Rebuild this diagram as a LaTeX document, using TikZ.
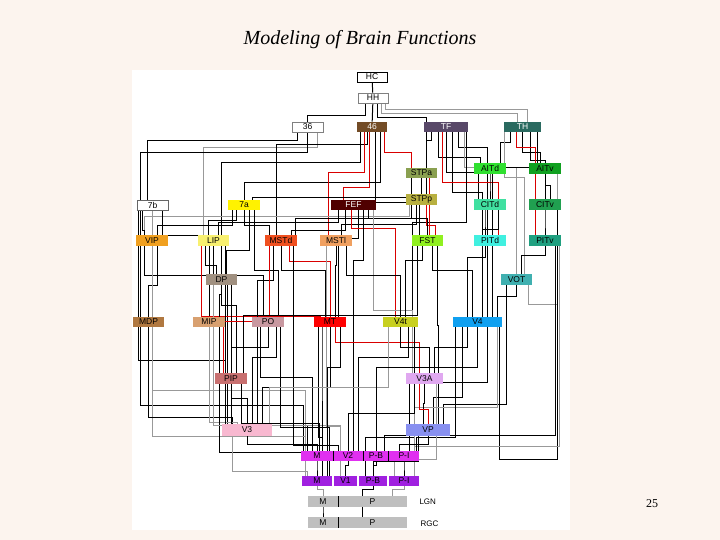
\documentclass[tikz,border=0pt]{standalone}
\usepackage{fontspec}
\setmainfont{Liberation Serif}
\newfontfamily\nodefont{Liberation Sans}
\usetikzlibrary{backgrounds}
\begin{document}
\begin{tikzpicture}[x=1pt,y=-1pt,
  bx/.style={inner sep=0pt,font=\nodefont\fontsize{8.5}{9}\selectfont,minimum height=10.5},
  k/.style={black,line width=1pt},
  g/.style={black!40,line width=0.9pt},
  r/.style={red!85!black,line width=0.7pt}]
\newcommand\E[6]{\draw[#1] ([xshift=#3]#2.south) -- ++(0,#4) -| ([xshift=#6]#5.north);}
\newcommand\N[6]{\node[bx,fill={#1},text=#2,minimum width=#5] (#3) at (#4) {#6};}
\begin{pgfonlayer}{background}
\fill[fill={rgb,255:red,252;green,244;blue,238}] (0,0) rectangle (720,540);
\fill[white] (132,70) rectangle (570,530);
\end{pgfonlayer}
\useasboundingbox (0,0) rectangle (720,540);
\node[font=\itshape\fontsize{20}{24}\selectfont] (title) at (360,40) {Modeling of Brain Functions};
\node[font=\fontsize{12}{14}\selectfont] (pg) at (652,504) {25};
% nodes
\node[bx,draw=black,fill=white,minimum width=30] (HC) at (372,77) {HC};
\node[bx,draw=black!50,fill=white,minimum width=30] (HH) at (373,98) {HH};
\node[bx,draw=black!50,fill=white,minimum width=31] (n36) at (307.5,127) {36};
\N{brown!60!black}{white}{n46}{372,127}{30}{46}
\N{rgb,255:red,88;green,72;blue,104}{white}{TF}{446,127}{44}{TF}
\N{rgb,255:red,42;green,106;blue,96}{white}{TH}{522.5,127}{37}{TH}
\N{rgb,255:red,138;green,160;blue,80}{black}{STPa}{421.5,173}{31}{STPa}
\N{rgb,255:red,48;green,224;blue,48}{black}{AITd}{490,168.5}{32}{AITd}
\N{rgb,255:red,16;green,160;blue,32}{black}{AITv}{545,168.5}{32}{AITv}
\node[bx,draw=black!60,fill=white,minimum width=31] (n7b) at (152.5,205) {7b};
\N{yellow}{black}{n7a}{244,205}{32}{7a}
\N{rgb,255:red,80;green,0;blue,0}{white}{FEF}{353.5,205}{45}{FEF}
\N{rgb,255:red,184;green,176;blue,64}{black}{STPp}{421.5,199.5}{31}{STPp}
\N{rgb,255:red,64;green,224;blue,160}{black}{CITd}{490,204.5}{32}{CITd}
\N{rgb,255:red,32;green,160;blue,80}{black}{CITv}{545,204.5}{32}{CITv}
\N{rgb,255:red,240;green,160;blue,32}{black}{VIP}{152,240.5}{32}{VIP}
\N{rgb,255:red,248;green,240;blue,112}{black}{LIP}{213.5,240.5}{31}{LIP}
\N{rgb,255:red,240;green,80;blue,32}{black}{MSTd}{281,240.5}{32}{MSTd}
\N{rgb,255:red,240;green,160;blue,96}{black}{MSTl}{336,240.5}{32}{MSTl}
\N{rgb,255:red,144;green,240;blue,32}{black}{FST}{427.5,240.5}{31}{FST}
\N{rgb,255:red,64;green,240;blue,224}{black}{PITd}{490,240.5}{32}{PITd}
\N{rgb,255:red,32;green,160;blue,128}{black}{PITv}{545,240.5}{32}{PITv}
\N{rgb,255:red,160;green,144;blue,128}{black}{DP}{221.5,279.5}{31}{DP}
\N{rgb,255:red,64;green,176;blue,176}{black}{VOT}{516.5,279.5}{31}{VOT}
\N{rgb,255:red,176;green,120;blue,64}{black}{MDP}{148.5,322}{31}{MDP}
\N{rgb,255:red,216;green,160;blue,112}{black}{MIP}{209,322}{32}{MIP}
\N{rgb,255:red,200;green,152;blue,160}{black}{PO}{268,322}{32}{PO}
\N{red}{black}{MT}{330,322}{32}{MT}
\N{rgb,255:red,200;green,208;blue,32}{black}{V4t}{400.5,322}{35}{V4t}
\N{rgb,255:red,16;green,160;blue,240}{black}{V4}{477.5,322}{49}{V4}
\N{rgb,255:red,200;green,112;blue,112}{black}{PIP}{231,378.5}{32}{PIP}
\N{rgb,255:red,224;green,168;blue,240}{black}{V3A}{424.5,378.5}{37}{V3A}
\node[bx,fill={rgb,255:red,248;green,184;blue,208},minimum width=50,minimum height=12] (V3) at (247,430) {V3};
\node[bx,fill={rgb,255:red,136;green,144;blue,240},minimum width=44,minimum height=12] (VP) at (428,430) {VP};
\N{rgb,255:red,224;green,48;blue,240}{black}{V2M}{317,456}{32}{M}
\N{rgb,255:red,224;green,48;blue,240}{black}{V2}{348,456}{30}{V2}
\N{rgb,255:red,224;green,48;blue,240}{black}{V2PB}{376,456}{24}{P-B}
\N{rgb,255:red,224;green,48;blue,240}{black}{V2PI}{404,456}{30}{P-I}
\N{rgb,255:red,160;green,32;blue,224}{black}{V1M}{317,481}{30}{M}
\N{rgb,255:red,160;green,32;blue,224}{black}{V1}{345.5,481}{23}{V1}
\N{rgb,255:red,160;green,32;blue,224}{black}{V1PB}{373,481}{28}{P-B}
\N{rgb,255:red,160;green,32;blue,224}{black}{V1PI}{404,481}{30}{P-I}
\N{black!25}{black}{LGNM}{323,501.5}{30}{M}
\N{black!25}{black}{LGNP}{372.5,501.5}{69}{P}
\N{black!25}{black}{RGCM}{323,522.5}{30}{M}
\N{black!25}{black}{RGCP}{372.5,522.5}{69}{P}
\draw[line width=1.2pt] (LGNM.north east) -- (LGNM.south east);
\draw[line width=1.2pt] (RGCM.north east) -- (RGCM.south east);
\draw[line width=1pt] (V2M.north east) -- (V2M.south east);
\draw[line width=1pt] (V2.north east) -- (V2.south east);
\draw[line width=1pt] (V2PB.north east) -- (V2PB.south east);
\node[font=\nodefont\fontsize{8}{9}\selectfont,anchor=west] (lgn) at (416,502) {LGN};
\node[font=\nodefont\fontsize{8}{9}\selectfont,anchor=west] (rgc) at (417,524) {RGC};
% connectors
\begin{pgfonlayer}{background}
\draw[k] (HC) -- (HH);
\draw[k] (HH) -- (n46);
\E{k}{HH}{-8}{12}{n36}{0}
\E{g}{HH}{8}{10}{TH}{-5}
\E{k}{HH}{4}{14}{TF}{-20}
\E{g}{HH}{12}{6}{TH}{5}
\E{k}{n36}{-10}{8}{n7b}{-5}
\E{g}{n36}{10}{15}{LIP}{-10}
\E{k}{n36}{0}{20}{VIP}{-12}
\E{k}{n46}{-5}{12}{MSTd}{-5}
\E{r}{n46}{-3}{55}{FEF}{-10}
\E{k}{n46}{3}{70}{FST}{-8}
\E{k}{n46}{8}{50}{n7a}{0}
\E{r}{n46}{12}{20}{STPp}{-10}
\E{k}{n46}{-12}{30}{LIP}{8}
\E{r}{n46}{-8}{40}{MSTl}{-8}
\E{k}{TF}{-15}{8}{STPa}{5}
\E{k}{TF}{-8}{25}{AITd}{-10}
\E{k}{TF}{0}{40}{CITd}{-12}
\E{k}{TF}{6}{60}{PITd}{-8}
\E{k}{TF}{12}{15}{V4}{10}
\E{g}{TF}{18}{35}{VOT}{0}
\E{k}{TF}{-20}{65}{n7a}{8}
\E{r}{TF}{-4}{50}{PITd}{8}
\E{k}{TF}{20}{90}{V4t}{12}
\E{k}{TH}{-12}{10}{AITd}{10}
\E{k}{TH}{0}{20}{AITv}{-5}
\E{k}{TH}{8}{28}{CITv}{0}
\E{r}{TH}{-6}{15}{PITv}{-10}
\E{k}{TH}{15}{35}{V4}{15}
\E{g}{TH}{-18}{45}{VOT}{8}
\E{k}{STPa}{0}{10}{STPp}{0}
\E{k}{STPa}{-10}{40}{MSTd}{14}
\E{r}{STPa}{8}{60}{FST}{12}
\E{k}{STPp}{-5}{20}{MSTl}{5}
\E{r}{STPp}{5}{20}{FST}{8}
\E{g}{STPp}{-12}{12}{VIP}{-8}
\E{k}{AITd}{0}{10}{CITd}{0}
\E{k}{AITv}{0}{12}{CITv}{5}
\E{g}{AITv}{12}{130}{VOT}{12}
\E{k}{CITd}{-5}{10}{PITd}{-5}
\E{k}{CITv}{0}{12}{PITv}{0}
\E{k}{CITd}{8}{20}{V4}{5}
\E{k}{CITv}{12}{250}{V4}{22}
\E{k}{PITd}{-5}{12}{V4}{-10}
\E{k}{PITv}{0}{10}{VOT}{5}
\E{k}{PITv}{10}{190}{V2PB}{8}
\E{g}{PITv}{14}{200}{V2PI}{10}
\E{k}{VOT}{0}{12}{V4}{20}
\E{k}{VOT}{-10}{120}{VP}{15}
\E{k}{FEF}{-15}{12}{LIP}{5}
\E{k}{FEF}{-8}{20}{MSTd}{10}
\E{k}{FEF}{5}{28}{MT}{8}
\E{r}{FEF}{-2}{18}{V4t}{-5}
\E{k}{FEF}{15}{8}{FST}{0}
\E{k}{FEF}{10}{50}{V2}{5}
\E{g}{FEF}{20}{100}{V3A}{-12}
\E{k}{n7a}{-8}{10}{LIP}{-5}
\E{k}{n7a}{0}{15}{MSTd}{-12}
\E{k}{n7a}{5}{40}{DP}{5}
\E{k}{n7a}{10}{60}{PO}{10}
\E{k}{n7a}{-12}{15}{VIP}{5}
\E{k}{n7b}{-10}{20}{VIP}{-8}
\E{k}{n7b}{10}{25}{MIP}{0}
\E{k}{n7b}{-14}{150}{V3}{-22}
\E{g}{n7b}{0}{180}{V2M}{-12}
\E{k}{VIP}{-8}{30}{V3}{-20}
\E{k}{VIP}{5}{40}{MDP}{0}
\E{k}{VIP}{-12}{160}{V2M}{-14}
\E{g}{VIP}{0}{190}{V1M}{-12}
\E{k}{MDP}{0}{90}{V3}{-15}
\E{g}{MIP}{0}{95}{V3}{-10}
\E{k}{MIP}{10}{125}{V2M}{-8}
\E{k}{LIP}{-8}{20}{DP}{-5}
\E{k}{LIP}{0}{30}{PO}{-5}
\E{k}{LIP}{8}{60}{PIP}{5}
\E{r}{LIP}{-12}{70}{MT}{-10}
\E{k}{LIP}{12}{180}{V2M}{-10}
\E{k}{DP}{10}{145}{V3}{20}
\E{g}{DP}{-8}{140}{V2}{-8}
\E{k}{MSTd}{0}{25}{MT}{-5}
\E{r}{MSTd}{8}{15}{MT}{0}
\E{k}{MSTd}{-8}{35}{V3}{10}
\E{k}{MSTd}{12}{200}{V2}{-10}
\E{r}{MSTd}{-12}{75}{PIP}{-8}
\E{k}{MSTl}{0}{20}{MT}{5}
\E{k}{MSTl}{10}{30}{V4t}{0}
\E{g}{MSTl}{-10}{180}{V1}{-5}
\E{k}{FST}{-5}{15}{V4t}{5}
\E{k}{FST}{5}{25}{V4}{-5}
\E{k}{FST}{10}{80}{VP}{10}
\E{k}{FST}{-10}{70}{PIP}{12}
\E{k}{DP}{0}{10}{MIP}{10}
\E{k}{PO}{0}{20}{PIP}{0}
\E{k}{PO}{8}{30}{V3}{5}
\E{k}{PO}{-8}{50}{V2M}{-5}
\E{k}{PO}{12}{100}{V1M}{12}
\E{k}{MT}{-8}{25}{V2M}{5}
\E{r}{MT}{5}{15}{V3A}{-5}
\E{k}{MT}{10}{40}{V1M}{10}
\E{k}{MT}{0}{60}{V3}{15}
\E{k}{MT}{-12}{110}{V1M}{5}
\E{k}{V4t}{0}{20}{V3A}{5}
\E{k}{V4t}{8}{30}{V2}{10}
\E{g}{V4t}{-12}{60}{V3}{22}
\E{k}{V4t}{14}{110}{V1PB}{-8}
\E{k}{V4}{-10}{20}{V3A}{10}
\E{k}{V4}{0}{40}{V2PB}{0}
\E{k}{V4}{10}{55}{V2PI}{5}
\E{k}{V4}{-15}{70}{VP}{5}
\E{g}{V4}{20}{80}{V1PI}{10}
\E{k}{V4}{-22}{110}{V2PI}{12}
\E{k}{PIP}{0}{15}{V3}{0}
\E{k}{PIP}{10}{40}{V2M}{2}
\E{k}{V3A}{0}{20}{VP}{-5}
\E{r}{V3A}{-5}{25}{VP}{0}
\E{k}{V3A}{-10}{30}{V2}{0}
\E{g}{V3A}{12}{75}{V1PI}{-10}
\E{k}{V3}{0}{8}{V2M}{0}
\E{g}{V3}{-15}{35}{V1M}{-10}
\E{k}{VP}{0}{8}{V2PI}{-5}
\E{k}{VP}{-10}{25}{V1PB}{0}
\E{k}{V2M}{0}{4}{V1M}{0}
\E{k}{V2}{0}{4}{V1}{0}
\E{k}{V2PB}{0}{4}{V1PB}{0}
\E{k}{V2PI}{0}{4}{V1PI}{0}
\E{g}{V1M}{0}{3}{LGNM}{0}
\E{k}{V1PB}{0}{3}{LGNP}{-10}
\E{g}{V1PI}{0}{3}{LGNP}{20}
\E{k}{LGNM}{0}{3}{RGCM}{0}
\E{k}{LGNP}{-10}{3}{RGCP}{-10}
\end{pgfonlayer}
\end{tikzpicture}
\end{document}
